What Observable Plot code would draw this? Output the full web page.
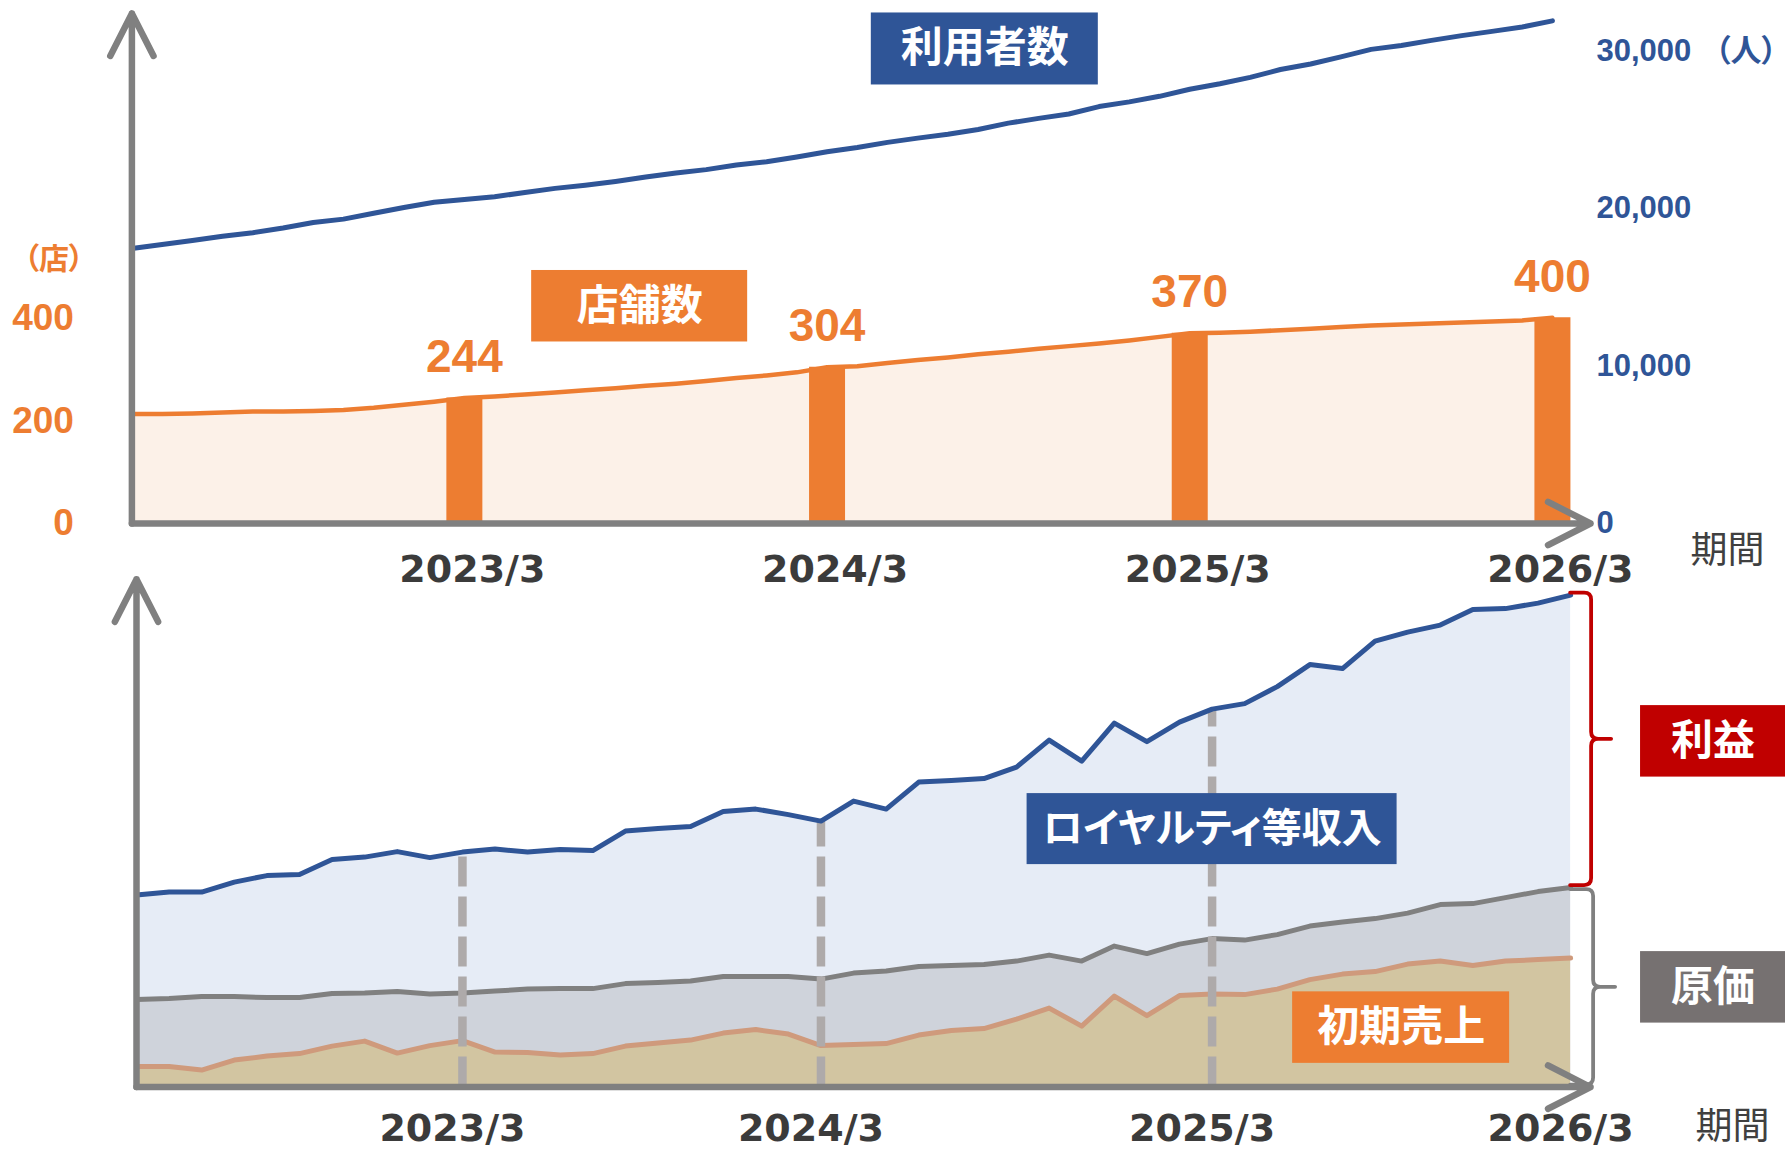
<!DOCTYPE html>
<html>
<head>
<meta charset="utf-8">
<script src="https://cdn.jsdelivr.net/npm/d3@7"></script>
<script src="https://cdn.jsdelivr.net/npm/@observablehq/plot@0.6"></script>
<style>
  html, body { margin: 0; padding: 0; background: #ffffff; }
  #wrap { position: relative; width: 1785px; height: 1150px; overflow: hidden; background: #ffffff; }
  #wrap svg { position: absolute; left: 0; top: 0; }
</style>
</head>
<body>
<div id="wrap"></div>
<script>
// ---------------- data ----------------
// Upper chart: monthly store count (店) and users (人), month index 0..47
const storeCounts = [213,213,214,216,218,218,219,221,225,231,237,244,247,251,255,259,263,268,272,277,283,288,294,304,306,312,318,323,329,334,340,345,350,356,363,370,371,373,376,379,382,385,387,389,391,393,395,400];
const userCounts = [17450,17700,17950,18220,18450,18750,19100,19310,19680,20050,20380,20560,20730,21000,21260,21460,21700,21980,22230,22450,22740,22950,23250,23580,23850,24180,24450,24700,25000,25400,25700,25980,26450,26750,27100,27550,27900,28300,28800,29150,29600,30080,30320,30650,30950,31220,31500,31890];
const periodLabels = ["2023/3", "2024/3", "2025/3", "2026/3"];
const barMonths = [11, 23, 35, 47];
const barStores = [244, 304, 370, 400];
const storeTicks = [0, 200, 400];
const userTicks = [0, 10000, 20000, 30000];
const storeUnit = "（店）";
const userUnit = "（人）";
const periodAxisLabel = "期間";

// Lower chart: revenue composition (index units), period index 0..44
const revenueTotal = [38.4,39.0,39.0,41.0,42.3,42.5,45.5,46.0,47.1,45.9,47.0,47.6,47.0,47.5,47.3,51.2,51.7,52.1,55.1,55.6,54.5,53.2,57.2,55.6,61.0,61.3,61.7,64.0,69.4,65.2,72.8,69.1,73.0,75.6,76.7,80.1,84.5,83.7,89.2,91.0,92.4,95.5,95.7,96.8,98.4];
const costOfSales = [17.5,17.7,18.1,18.1,17.9,17.9,18.7,18.8,19.1,18.6,18.8,19.2,19.6,19.7,19.7,20.7,20.9,21.2,22.1,22.1,22.1,21.6,22.8,23.2,24.1,24.3,24.5,25.2,26.4,25.2,28.2,26.7,28.6,29.7,29.4,30.5,32.2,33.0,33.7,34.8,36.5,36.7,37.9,39.1,39.9];
const initialSales = [4.1,4.1,3.4,5.4,6.2,6.7,8.2,9.2,6.8,8.3,9.3,7.0,6.9,6.4,6.7,8.2,8.8,9.4,10.8,11.5,10.6,8.3,8.5,8.7,10.4,11.3,11.7,13.6,15.8,12.2,18.2,14.3,18.3,18.6,18.5,19.6,21.5,22.6,23.1,24.6,25.2,24.3,25.2,25.5,25.8];
const bottomTickIdx = [10, 21, 33, 44];

// ---------------- style ----------------
const W = 1785, H = 1150;
const ORANGE = "#ED7D31", BLUE = "#2F5597", AXIS = "#808080", RED = "#C00000", COSTBOX = "#767171";
const NUM = "Liberation Sans, Arial, sans-serif";
const DATEF = "DejaVu Sans, sans-serif";
const JP = "Noto Sans CJK JP, sans-serif";

// ---------------- helpers ----------------
function boxMark(specs) {
  return (index, scales) => {
    const g = d3.create("svg:g");
    for (const s of specs) {
      const cx = scales.x(s.x), cy = scales.y(s.y);
      g.append("rect")
        .attr("x", cx - s.w / 2).attr("y", cy - s.h / 2)
        .attr("width", s.w).attr("height", s.h)
        .attr("fill", s.fill);
    }
    return g.node();
  };
}
function calloutMarks(specs) {
  return [
    boxMark(specs),
    Plot.text(specs, {x: "x", y: "y", text: "text", fill: "white", fontSize: "size",
      fontWeight: "bold", fontFamily: JP})
  ];
}
function axisArrows(xMax, yMax) {
  const common = {stroke: AXIS, strokeWidth: 6.5, headLength: 11, headAngle: 54,
    strokeLinecap: "round", strokeLinejoin: "round"};
  return [
    Plot.arrow([0], {x1: () => 0, y1: () => 0, x2: () => 0, y2: () => yMax, ...common}),
    Plot.arrow([0], {x1: () => 0, y1: () => 0, x2: () => xMax, y2: () => 0, ...common})
  ];
}

// ---------------- upper chart ----------------
const storeDomain = [0, 992];
const userDomain = [0, 32355];           // right axis shares the pixel range
const toStoreUnits = u => u * storeDomain[1] / userDomain[1];
const topXDomain = [0, 48.26];

const topData = storeCounts.map((s, i) => ({month: i, stores: s, users: userCounts[i]}));
const bars = barMonths.map((m, i) => ({month: m, stores: barStores[i], period: periodLabels[i]}));
const topUserTick = userTicks[userTicks.length - 1];

const topPlot = Plot.plot({
  width: W, height: H,
  marginLeft: 131.4, marginRight: 195, marginTop: 13, marginBottom: 627,
  x: {domain: topXDomain, axis: null},
  y: {domain: storeDomain, axis: null},
  style: {background: "transparent", overflow: "visible"},
  marks: [
    Plot.areaY(topData, {x: "month", y: "stores", fill: "#FCF1E8"}),
    Plot.lineY(topData, {x: "month", y: "stores", stroke: ORANGE, strokeWidth: 4.5}),
    Plot.lineY(topData, {x: "month", y: d => toStoreUnits(d.users), stroke: BLUE, strokeWidth: 5}),
    Plot.ruleX(bars, {x: "month", y1: () => 0, y2: "stores", stroke: ORANGE, strokeWidth: 36}),
    axisArrows(topXDomain[1], storeDomain[1]),
    Plot.text(bars, {x: "month", y: "stores", text: d => String(d.stores), dy: -41,
      fill: ORANGE, fontSize: 46, fontWeight: "bold", fontFamily: NUM}),
    Plot.text(storeTicks, {y: d => d, text: d => String(d), frameAnchor: "left", dx: -58,
      textAnchor: "end", lineAnchor: "middle", fill: ORANGE, fontSize: 37, fontWeight: "bold", fontFamily: NUM}),
    Plot.text([storeUnit], {y: () => storeTicks[storeTicks.length - 1], text: d => d,
      frameAnchor: "left", dx: -78, dy: -58, textAnchor: "middle", lineAnchor: "middle",
      fill: ORANGE, fontSize: 30, fontWeight: "bold", fontFamily: JP}),
    Plot.text(userTicks, {y: d => toStoreUnits(d), text: d => d3.format(",")(d),
      frameAnchor: "right", dx: 6, textAnchor: "start", lineAnchor: "middle", fill: BLUE, fontSize: 31,
      fontWeight: "bold", fontFamily: NUM}),
    Plot.text([userUnit], {y: () => toStoreUnits(topUserTick), text: d => d,
      frameAnchor: "right", dx: 155.5, textAnchor: "middle", lineAnchor: "middle", fill: BLUE, fontSize: 31,
      fontWeight: "bold", fontFamily: JP}),
    Plot.text(bars, {x: "month", text: "period", frameAnchor: "bottom", dx: 8, dy: 46,
      lineAnchor: "middle", fill: "#3B3B3B", fontSize: 38, fontWeight: "bold", fontFamily: DATEF}),
    Plot.text([periodAxisLabel], {text: d => d, frameAnchor: "bottom-right", dx: 137, dy: 28,
      textAnchor: "middle", lineAnchor: "middle", fill: "#404040", fontSize: 37, fontFamily: JP}),
    calloutMarks([
      {text: "利用者数", x: 28.22, y: 923, w: 227, h: 72, fill: BLUE, size: 42},
      {text: "店舗数", x: 16.8, y: 422.6, w: 216, h: 71.5, fill: ORANGE, size: 42}
    ])
  ]
});

// ---------------- lower chart ----------------
const botXDomain = [0, 44.61];
const botYDomain = [0, 101.56];
const botData = revenueTotal.map((v, k) => ({k, revenue: v, cost: costOfSales[k], initial: initialSales[k]}));
const last = revenueTotal.length - 1;
const dashTicks = bottomTickIdx.slice(0, 3).map(k => ({k, top: revenueTotal[k]}));
const botTicks = bottomTickIdx.map((k, i) => ({k, label: periodLabels[i]}));

function bracePath(x0, stem, tip, yTop, yBot, r) {
  const yMid = (yTop + yBot) / 2;
  return `M${x0},${yTop}H${stem - r}Q${stem},${yTop} ${stem},${yTop + r}V${yMid - r}` +
    `Q${stem},${yMid} ${stem + r},${yMid}H${tip}M${stem + r},${yMid}Q${stem},${yMid} ${stem},${yMid + r}` +
    `V${yBot - r}Q${stem},${yBot} ${stem - r},${yBot}H${x0}`;
}
const braces = (index, scales) => {
  const g = d3.create("svg:g").attr("fill", "none")
    .attr("stroke-linecap", "round").attr("stroke-linejoin", "round");
  const xEnd = scales.x(last);
  const yRev = scales.y(revenueTotal[last]), yCost = scales.y(costOfSales[last]), y0 = scales.y(0);
  g.append("path").attr("d", bracePath(xEnd, xEnd + 21, xEnd + 41, yRev - 2, yCost - 2, 7))
    .attr("stroke", RED).attr("stroke-width", 3.8);
  g.append("path").attr("d", bracePath(xEnd, xEnd + 23, xEnd + 45, yCost + 2, y0 - 2, 7))
    .attr("stroke", AXIS).attr("stroke-width", 3.8);
  return g.node();
};

const botPlot = Plot.plot({
  width: W, height: H,
  marginLeft: 136, marginRight: 195, marginTop: 578.8, marginBottom: 63.4,
  x: {domain: botXDomain, axis: null},
  y: {domain: botYDomain, axis: null},
  style: {background: "transparent", overflow: "visible"},
  marks: [
    Plot.areaY(botData, {x: "k", y: "revenue", fill: "#E6ECF6"}),
    Plot.areaY(botData, {x: "k", y: "cost", fill: "#CFD3DB"}),
    Plot.areaY(botData, {x: "k", y: "initial", fill: "#D2C5A1"}),
    Plot.lineY(botData, {x: "k", y: "cost", stroke: "#808080", strokeWidth: 5}),
    Plot.lineY(botData, {x: "k", y: "initial", stroke: "#CF9A7C", strokeWidth: 5}),
    Plot.ruleX(dashTicks, {x: "k", y1: () => 0, y2: "top", stroke: "#AEAAAA", strokeWidth: 8.5,
      strokeDasharray: "30,10"}),
    Plot.lineY(botData, {x: "k", y: "revenue", stroke: BLUE, strokeWidth: 5}),
    axisArrows(botXDomain[1], botYDomain[1]),
    braces,
    Plot.text(botTicks, {x: "k", text: "label", frameAnchor: "bottom", dx: -10, dy: 41.5,
      lineAnchor: "middle", fill: "#3B3B3B", fontSize: 38, fontWeight: "bold", fontFamily: DATEF}),
    Plot.text([periodAxisLabel], {text: d => d, frameAnchor: "bottom-right", dx: 142, dy: 40,
      textAnchor: "middle", lineAnchor: "middle", fill: "#404040", fontSize: 37, fontFamily: JP}),
    calloutMarks([
      {text: "ロイヤルティ等収入", x: bottomTickIdx[2], y: 51.6, w: 370, h: 71, fill: BLUE, size: 40},
      {text: "初期売上", x: 38.8, y: 11.9, w: 217, h: 71.5, fill: ORANGE, size: 42},
      {text: "利益", x: 48.37, y: (revenueTotal[last] + costOfSales[last]) / 2, w: 145, h: 71.5, fill: RED, size: 42},
      {text: "原価", x: 48.37, y: costOfSales[last] / 2, w: 145, h: 71.5, fill: COSTBOX, size: 42}
    ])
  ]
});

// proportional kana / bracket widths where the original uses them
for (const svg of [topPlot, botPlot]) {
  d3.select(svg).selectAll("text")
    .filter(function () { return /ロイヤル|（/.test(this.textContent); })
    .style("font-feature-settings", '"palt"');
}

const wrap = document.getElementById("wrap");
wrap.appendChild(topPlot);
wrap.appendChild(botPlot);
</script>
</body>
</html>
